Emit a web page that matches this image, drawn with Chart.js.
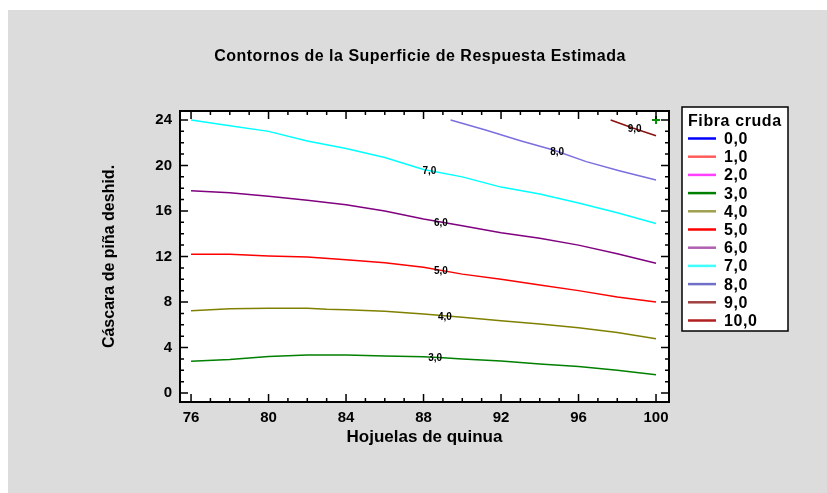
<!DOCTYPE html>
<html>
<head>
<meta charset="utf-8">
<script src="https://cdn.jsdelivr.net/npm/chart.js"></script>
<style>
html, body { margin: 0; padding: 0; background: #fff; }
#wrap { position: relative; width: 827px; height: 493px; }
</style>
</head>
<body>
<div id="wrap"><canvas id="contourChart"></canvas></div>
<script>
// Axis ticks
const xTicks = [76, 80, 84, 88, 92, 96, 100];
const yTicks = [0, 4, 8, 12, 16, 20, 24];

// Legend levels (Fibra cruda)
const levelNames = ['0,0', '1,0', '2,0', '3,0', '4,0', '5,0', '6,0', '7,0', '8,0', '9,0', '10,0'];
const levelColors = ['#0000ff', '#ff5c5c', '#ff40ff', '#008000', '#a0a050', '#ff0000', '#b060b0', '#40ffff', '#7070c8', '#a04040', '#b02020'];

// Contour lines
const x3 = [76, 78, 80, 82, 84, 86, 88, 89, 90, 92, 94, 96, 98, 100];
const y3 = [2.8, 2.95, 3.2, 3.35, 3.35, 3.25, 3.18, 3.1, 3.0, 2.82, 2.56, 2.32, 2.0, 1.6];
const x4 = [76, 78, 80, 82, 83, 84, 86, 88, 90, 92, 94, 96, 98, 100];
const y4 = [7.24, 7.4, 7.44, 7.44, 7.36, 7.32, 7.18, 6.94, 6.65, 6.35, 6.06, 5.74, 5.32, 4.76];
const x5 = [76, 78, 80, 82, 84, 86, 88, 90, 92, 94, 96, 98, 100];
const y5 = [12.2, 12.2, 12.05, 11.95, 11.72, 11.45, 11.05, 10.45, 10.0, 9.5, 9.0, 8.45, 8.0];
const x6 = [76, 78, 80, 82, 84, 86, 88, 90, 92, 94, 96, 98, 100];
const y6 = [17.78, 17.6, 17.3, 16.95, 16.55, 16.0, 15.3, 14.7, 14.08, 13.6, 13.0, 12.25, 11.4];
const x7 = [76, 78, 80, 82, 84, 86, 88, 90, 92, 94, 96, 98, 100];
const y7 = [24.0, 23.5, 23.0, 22.15, 21.5, 20.7, 19.65, 19.0, 18.1, 17.5, 16.7, 15.85, 14.9];
const x8 = [89.4, 91.2, 93, 94.7, 96.4, 98.1, 100];
const y8 = [24.0, 23.12, 22.18, 21.36, 20.34, 19.54, 18.72];
const x9 = [97.66, 98.8, 100];
const y9 = [24.0, 23.3, 22.62];

// Contour line labels
const labelText = ['3,0', '4,0', '5,0', '6,0', '7,0', '8,0', '9,0'];
const labelX = [88.6, 89.1, 88.9, 88.9, 88.3, 94.9, 98.9];
const labelY = [3.05, 6.62, 10.7, 14.93, 19.5, 21.19, 23.2];

// Optimum marker
const optX = [100];
const optY = [24];

const FONT = "'Liberation Sans', Arial, sans-serif";

function toPoints(xs, ys) {
    return xs.map((x, i) => ({ x: x, y: ys[i] }));
}

function contour(xs, ys, color) {
    return {
        data: toPoints(xs, ys),
        showLine: true,
        borderColor: color,
        borderWidth: 1.5,
        pointRadius: 0,
        tension: 0
    };
}

const datasets = [
    contour(x3, y3, '#008000'),
    contour(x4, y4, '#808000'),
    contour(x5, y5, '#ff0000'),
    contour(x6, y6, '#800080'),
    contour(x7, y7, '#00ffff'),
    contour(x8, y8, '#7b6ee0'),
    contour(x9, y9, '#8b1010'),
    {
        data: toPoints(optX, optY),
        pointStyle: 'cross',
        pointRadius: 4,
        borderColor: '#009000',
        borderWidth: 2,
        clip: false
    }
];

// gray panel + white plot area + main title
const background = {
    id: 'background',
    beforeDraw(chart) {
        const ctx = chart.ctx;
        const a = chart.chartArea;
        ctx.save();
        ctx.fillStyle = '#dcdcdc';
        ctx.fillRect(8, 10, chart.width - 8, chart.height - 10);
        ctx.fillStyle = '#ffffff';
        ctx.fillRect(a.left, a.top, a.right - a.left, a.bottom - a.top);
        ctx.fillStyle = '#000';
        ctx.font = 'bold 16px ' + FONT;
        ctx.letterSpacing = '0.5px';
        ctx.textAlign = 'center';
        ctx.textBaseline = 'middle';
        ctx.fillText('Contornos de la Superficie de Respuesta Estimada', 420, 57);
        ctx.restore();
    }
};

// frame, inward ticks, contour labels, legend box
const decorations = {
    id: 'decorations',
    afterDraw(chart) {
        const ctx = chart.ctx;
        const a = chart.chartArea;
        const xs = chart.scales.x;
        const ys = chart.scales.y;
        ctx.save();

        // contour labels
        ctx.fillStyle = '#000';
        ctx.font = 'bold 10px ' + FONT;
        ctx.textAlign = 'center';
        ctx.textBaseline = 'middle';
        labelText.forEach((t, i) => {
            ctx.fillText(t, xs.getPixelForValue(labelX[i]), ys.getPixelForValue(labelY[i]));
        });

        // ticks
        ctx.strokeStyle = '#000';
        ctx.lineWidth = 1.5;
        ctx.beginPath();
        for (let v = 76; v <= 100; v++) {
            const px = xs.getPixelForValue(v);
            const len = (v % 4 === 0) ? 8 : 4;
            ctx.moveTo(px, a.bottom); ctx.lineTo(px, a.bottom - len);
            ctx.moveTo(px, a.top); ctx.lineTo(px, a.top + len);
        }
        for (let v = 0; v <= 24; v++) {
            const py = ys.getPixelForValue(v);
            const len = (v % 4 === 0) ? 8 : 4;
            ctx.moveTo(a.left, py); ctx.lineTo(a.left + len, py);
            ctx.moveTo(a.right, py); ctx.lineTo(a.right - len, py);
        }
        ctx.stroke();

        // frame
        ctx.lineWidth = 2;
        ctx.strokeRect(a.left, a.top, a.right - a.left, a.bottom - a.top);

        // legend
        const lx = 682, ly = 107, lw = 106, lh = 224;
        ctx.fillStyle = '#fff';
        ctx.fillRect(lx, ly, lw, lh);
        ctx.lineWidth = 1.5;
        ctx.strokeRect(lx, ly, lw, lh);
        ctx.fillStyle = '#000';
        ctx.textAlign = 'left';
        ctx.textBaseline = 'middle';
        ctx.font = 'bold 16px ' + FONT;
        ctx.letterSpacing = '0.6px';
        ctx.fillText('Fibra cruda', 688, 122);
        levelNames.forEach((name, i) => {
            const ry = 138.5 + i * 18.2;
            ctx.strokeStyle = levelColors[i];
            ctx.lineWidth = 2.5;
            ctx.beginPath();
            ctx.moveTo(688, ry);
            ctx.lineTo(716, ry);
            ctx.stroke();
            ctx.fillStyle = '#000';
            ctx.fillText(name, 724, ry + 1);
        });
        ctx.restore();
    }
};

new Chart(document.getElementById('contourChart'), {
    type: 'scatter',
    data: { datasets: datasets },
    options: {
        responsive: true,
        maintainAspectRatio: false,
        animation: false,
        layout: { padding: { top: 111, right: 158, left: 0, bottom: 0 } },
        plugins: {
            legend: { display: false },
            tooltip: { enabled: false }
        },
        scales: {
            x: {
                type: 'linear',
                min: 75.43,
                max: 100.67,
                grid: { display: false, drawTicks: false },
                border: { display: false },
                afterBuildTicks: (s) => { s.ticks = xTicks.map(v => ({ value: v })); },
                afterFit: (s) => { s.height = 91; },
                ticks: {
                    color: '#000',
                    padding: 7,
                    maxRotation: 0,
                    font: { family: FONT, size: 15, weight: 'bold' }
                },
                title: {
                    display: true,
                    text: 'Hojuelas de quinua',
                    color: '#000',
                    padding: { top: 0, bottom: 45 },
                    font: { family: FONT, size: 17, weight: 'bold' }
                }
            },
            y: {
                type: 'linear',
                min: -0.79,
                max: 24.79,
                grid: { display: false, drawTicks: false },
                border: { display: false },
                afterBuildTicks: (s) => { s.ticks = yTicks.map(v => ({ value: v })); },
                afterFit: (s) => { s.width = 180; },
                ticks: {
                    color: '#000',
                    padding: 8,
                    font: { family: FONT, size: 15, weight: 'bold' }
                },
                title: {
                    display: true,
                    text: 'Cáscara de piña deshid.',
                    color: '#000',
                    padding: { top: 100.4, bottom: 0 },
                    font: { family: FONT, size: 16, weight: 'bold' }
                }
            }
        }
    },
    plugins: [background, decorations]
});
</script>
</body>
</html>
